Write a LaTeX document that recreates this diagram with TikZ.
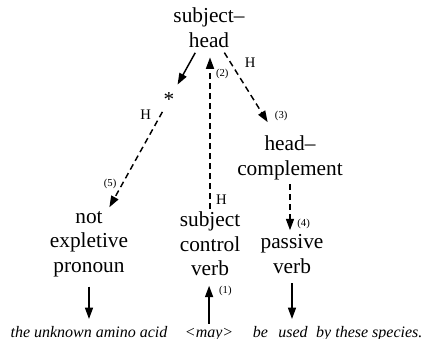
\documentclass[tikz,border=0pt]{standalone}
\usepackage{fontspec}
\setmainfont{Liberation Serif}
\usetikzlibrary{arrows.meta, positioning}
\tikzset{
  cat/.style={align=center, inner sep=0pt, font=\fontsize{16}{18.5}\selectfont},
  word/.style={inner sep=0pt, anchor=base, font=\fontsize{12}{14}\selectfont\itshape},
  hlbl/.style={inner sep=1pt, font=\fontsize{11}{13}\selectfont},
  num/.style={inner sep=1pt, font=\fontsize{8}{10}\selectfont},
  dep/.style={-{Triangle[length=8.5pt,width=6pt]}, line width=1.1pt},
  hdep/.style={dep, dash pattern=on 4.5pt off 3pt},
}

\begin{document}
\begin{tikzpicture}[x=0.75pt, y=-0.75pt]
    \useasboundingbox (0,0) rectangle (426,339);
    % categories
    \node[cat] (sh) at (209,28) {subject--\\head};
    \node[cat] (star) at (169,100) {*};
    \node[cat] (hc) at (290,158) {head--\\complement};
    \node[cat] (nep) at (89,244) {not\\expletive\\pronoun};
    \node[cat] (scv) at (210,244) {subject\\control\\verb};
    \node[cat] (pv) at (292,254) {passive\\verb};
    % sentence
    \node[word] (w1) at (89,337) {the unknown amino acid};
    \node[word, base right=12.75pt of w1] (w2) {\textless may\textgreater};
    \node[word, base right=14.25pt of w2] (w3) {be};
    \node[word, base right=7.5pt of w3] (w4) {used};
    \node[word, base right=6pt of w4] (w5) {by these species.};
    % links
    \draw[dep, shorten <=4pt, shorten >=7pt] (sh) -- (star);
    \draw[hdep, shorten <=2pt, shorten >=7pt] (scv.north) -- (scv.north |- sh.south)
        node[num, pos=0.84, right=3pt] {(2)}
        node[hlbl, pos=0.07, right=3pt] {H};
    \draw[hdep, shorten <=4pt, shorten >=12pt] (sh) -- (hc)
        node[hlbl, pos=0.17, right=9pt] {H}
        node[num, pos=0.77, right=7pt] {(3)};
    \draw[hdep, shorten <=3pt, shorten >=3pt] (hc.south) -- (hc.south |- pv.north)
        node[num, pos=0.8, right=4pt] {(4)};
    \draw[hdep, shorten <=4pt, shorten >=3pt] (star) -- (nep)
        node[hlbl, pos=0.07, left=6pt] {H}
        node[num, pos=0.74, left=3pt] {(5)};
    \draw[dep, shorten <=7pt, shorten >=5pt] (nep.south) -- (nep.south |- w1.north);
    \draw[dep, shorten <=3pt, shorten >=7pt] (w2.north) -- (w2.north |- scv.south)
        node[num, pos=0.72, right=6pt] {(1)};
    \draw[dep, shorten <=7pt, shorten >=5pt] (pv.south) -- (pv.south |- w4.north);
\end{tikzpicture}
\end{document}
